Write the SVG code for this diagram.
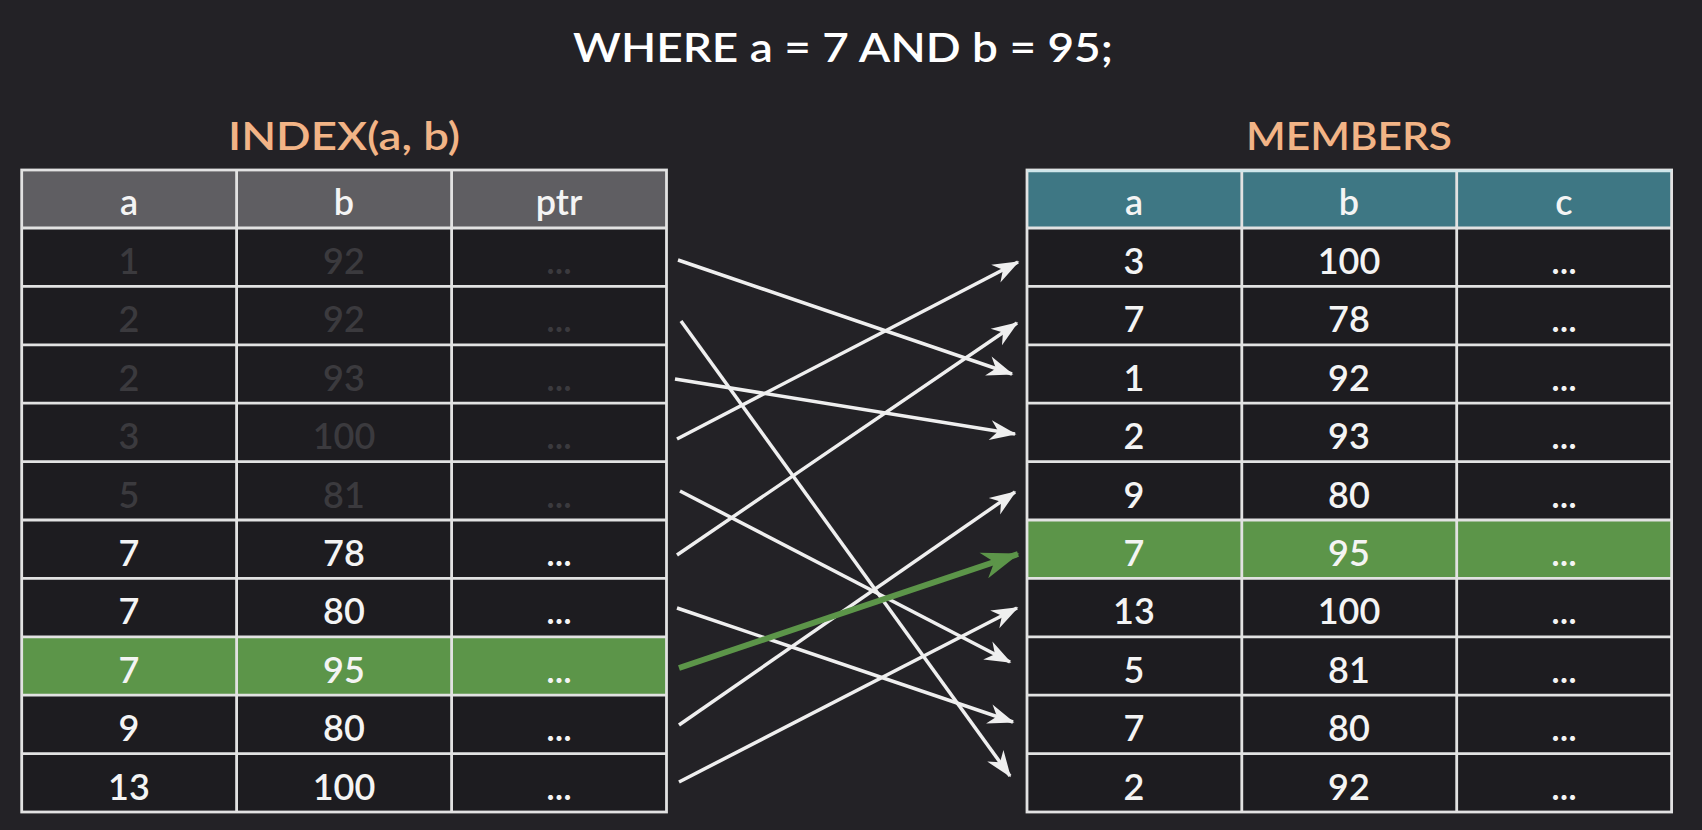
<svg xmlns="http://www.w3.org/2000/svg" width="1702" height="830" viewBox="0 0 1702 830">
<defs>
<style>
.bg{fill:#232226}
.cell{fill:#1d1c20}
.hl{fill:#5c9549}
.hdrL{fill:#5f5e62}
.hdrR{fill:#3e7784}
.grid{stroke:#e2e2e2;stroke-width:2.8;fill:none}
.t{font-family:Lato,"Open Sans","DejaVu Sans",sans-serif;font-size:36px;font-weight:600;text-anchor:middle;fill:#f4f4f4}
.dim{fill:#3b3a3e}
.ttl{font-family:Lato,"Open Sans","DejaVu Sans",sans-serif;font-size:40px;font-weight:600;text-anchor:middle;fill:#ffffff}
.lbl{font-family:Lato,"Open Sans","DejaVu Sans",sans-serif;font-size:39px;font-weight:600;text-anchor:middle;fill:#f2b486}
.w{stroke:#efefef;stroke-width:3.5;fill:none;marker-end:url(#aw)}
.g{stroke:#5c9549;stroke-width:6;fill:none;marker-end:url(#ag)}
</style>
<marker id="aw" markerUnits="userSpaceOnUse" viewBox="-28 -12 30 24" refX="0" refY="0" markerWidth="30" markerHeight="24" orient="auto">
<path d="M1.5,0 L-25,-10 L-17,0 L-25,10 Z" fill="#efefef"/>
</marker>
<marker id="ag" markerUnits="userSpaceOnUse" viewBox="-38 -15 40 30" refX="0" refY="0" markerWidth="40" markerHeight="30" orient="auto">
<path d="M1.5,0 L-36,-13.5 L-25,0 L-36,13.5 Z" fill="#5c9549"/>
</marker>
</defs>
<rect class="bg" x="0" y="0" width="1702" height="830"/>

<g id="title">
<text class="ttl" x="843" y="62" textLength="540" lengthAdjust="spacingAndGlyphs">WHERE a = 7 AND b = 95;</text>
</g>

<g id="index-table">
<text class="lbl" x="344" y="150" textLength="232" lengthAdjust="spacingAndGlyphs">INDEX(a, b)</text>
<rect class="hdrL" x="21.7" y="170" width="644.8" height="58"/>
<rect class="cell" x="21.7" y="228" width="644.8" height="584"/>
<rect class="hl" x="21.7" y="636.8" width="644.8" height="58.4"/>
<g class="grid">
<rect x="21.7" y="170" width="644.8" height="642"/>
<path d="M236.6,170V812M451.6,170V812M21.7,228H666.5M21.7,286.4H666.5M21.7,344.8H666.5M21.7,403.2H666.5M21.7,461.6H666.5M21.7,520H666.5M21.7,578.4H666.5M21.7,636.8H666.5M21.7,695.2H666.5M21.7,753.6H666.5"/>
</g>
<g id="index-header"><text class="t" x="129" y="215">a</text><text class="t" x="344" y="215">b</text><text class="t" x="559" y="215">ptr</text></g>
<g id="index-r1"><text class="t dim" x="129" y="274">1</text><text class="t dim" x="344" y="274">92</text><text class="t dim" x="559" y="274">...</text></g>
<g id="index-r2"><text class="t dim" x="129" y="332.4">2</text><text class="t dim" x="344" y="332.4">92</text><text class="t dim" x="559" y="332.4">...</text></g>
<g id="index-r3"><text class="t dim" x="129" y="390.8">2</text><text class="t dim" x="344" y="390.8">93</text><text class="t dim" x="559" y="390.8">...</text></g>
<g id="index-r4"><text class="t dim" x="129" y="449.2">3</text><text class="t dim" x="344" y="449.2">100</text><text class="t dim" x="559" y="449.2">...</text></g>
<g id="index-r5"><text class="t dim" x="129" y="507.6">5</text><text class="t dim" x="344" y="507.6">81</text><text class="t dim" x="559" y="507.6">...</text></g>
<g id="index-r6"><text class="t" x="129" y="566">7</text><text class="t" x="344" y="566">78</text><text class="t" x="559" y="566">...</text></g>
<g id="index-r7"><text class="t" x="129" y="624.4">7</text><text class="t" x="344" y="624.4">80</text><text class="t" x="559" y="624.4">...</text></g>
<g id="index-r8"><text class="t" x="129" y="682.8">7</text><text class="t" x="344" y="682.8">95</text><text class="t" x="559" y="682.8">...</text></g>
<g id="index-r9"><text class="t" x="129" y="741.2">9</text><text class="t" x="344" y="741.2">80</text><text class="t" x="559" y="741.2">...</text></g>
<g id="index-r10"><text class="t" x="129" y="799.6">13</text><text class="t" x="344" y="799.6">100</text><text class="t" x="559" y="799.6">...</text></g>
</g>

<g id="members-table">
<text class="lbl" x="1349" y="150" textLength="206" lengthAdjust="spacingAndGlyphs">MEMBERS</text>
<rect class="hdrR" x="1027" y="170" width="644.6" height="58"/>
<rect class="cell" x="1027" y="228" width="644.6" height="584"/>
<rect class="hl" x="1027" y="520" width="644.6" height="58.4"/>
<g class="grid">
<rect x="1027" y="170" width="644.6" height="642"/>
<path d="M1241.8,170V812M1456.7,170V812M1027,228H1671.6M1027,286.4H1671.6M1027,344.8H1671.6M1027,403.2H1671.6M1027,461.6H1671.6M1027,520H1671.6M1027,578.4H1671.6M1027,636.8H1671.6M1027,695.2H1671.6M1027,753.6H1671.6"/>
</g>
<path d="M1027,171H1671.6" stroke="#cfe6ea" stroke-width="2.5"/>
<g id="members-header"><text class="t" x="1134" y="215">a</text><text class="t" x="1349" y="215">b</text><text class="t" x="1564" y="215">c</text></g>
<g id="members-r1"><text class="t" x="1134" y="274">3</text><text class="t" x="1349" y="274">100</text><text class="t" x="1564" y="274">...</text></g>
<g id="members-r2"><text class="t" x="1134" y="332.4">7</text><text class="t" x="1349" y="332.4">78</text><text class="t" x="1564" y="332.4">...</text></g>
<g id="members-r3"><text class="t" x="1134" y="390.8">1</text><text class="t" x="1349" y="390.8">92</text><text class="t" x="1564" y="390.8">...</text></g>
<g id="members-r4"><text class="t" x="1134" y="449.2">2</text><text class="t" x="1349" y="449.2">93</text><text class="t" x="1564" y="449.2">...</text></g>
<g id="members-r5"><text class="t" x="1134" y="507.6">9</text><text class="t" x="1349" y="507.6">80</text><text class="t" x="1564" y="507.6">...</text></g>
<g id="members-r6"><text class="t" x="1134" y="566">7</text><text class="t" x="1349" y="566">95</text><text class="t" x="1564" y="566">...</text></g>
<g id="members-r7"><text class="t" x="1134" y="624.4">13</text><text class="t" x="1349" y="624.4">100</text><text class="t" x="1564" y="624.4">...</text></g>
<g id="members-r8"><text class="t" x="1134" y="682.8">5</text><text class="t" x="1349" y="682.8">81</text><text class="t" x="1564" y="682.8">...</text></g>
<g id="members-r9"><text class="t" x="1134" y="741.2">7</text><text class="t" x="1349" y="741.2">80</text><text class="t" x="1564" y="741.2">...</text></g>
<g id="members-r10"><text class="t" x="1134" y="799.6">2</text><text class="t" x="1349" y="799.6">92</text><text class="t" x="1564" y="799.6">...</text></g>
</g>

<g id="connectors">
<line class="w" x1="678" y1="260" x2="1012" y2="374"/>
<line class="w" x1="681" y1="321" x2="1010" y2="776"/>
<line class="w" x1="675" y1="379" x2="1015" y2="434"/>
<line class="w" x1="677" y1="439" x2="1018" y2="262"/>
<line class="w" x1="680" y1="491" x2="1010" y2="662"/>
<line class="w" x1="677" y1="555" x2="1017" y2="323"/>
<line class="w" x1="677" y1="608" x2="1013" y2="722"/>
<line class="w" x1="679" y1="725" x2="1015" y2="492"/>
<line class="w" x1="679" y1="782" x2="1017" y2="608"/>
<line class="g" x1="679" y1="668" x2="1018" y2="554"/>
</g>
</svg>
